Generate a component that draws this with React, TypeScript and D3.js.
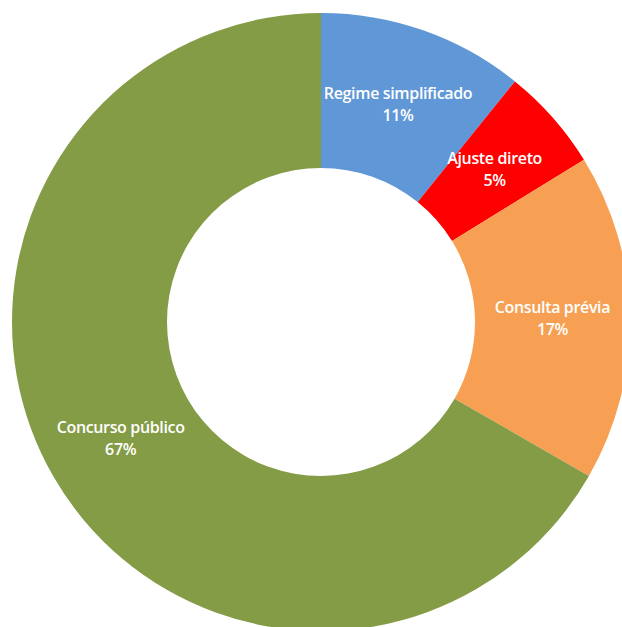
import React from "react";
import * as d3 from "d3";

const categories = ["Regime simplificado", "Ajuste direto", "Consulta prévia", "Concurso público"];
const values = [10.8, 5.4, 17.1, 66.7];
const percentLabels = ["11%", "5%", "17%", "67%"];
const colors = ["#6097D6", "#FF0000", "#F79F52", "#849C46"];

const W = 622;
const H = 627;
const cx = 321;
const cy = 322;
const outerR = 309;
const innerR = 154;

export default function App() {
  const data = categories.map((c, i) => ({ name: c, value: values[i], pct: percentLabels[i], color: colors[i] }));
  const pie = d3.pie<any>().value((d) => d.value).sort(null);
  const arcs = pie(data);
  const arc = d3.arc<any>().innerRadius(innerR).outerRadius(outerR);
  return (
    <svg width={W} height={H} style={{ position: "absolute", left: 0, top: 0, background: "#fff" }}>
      <g transform={`translate(${cx},${cy})`}>
        {arcs.map((a, i) => (
          <path key={i} d={arc(a) as string} fill={a.data.color} />
        ))}
        {arcs.map((a, i) => {
          const [x, y] = arc.centroid(a);
          return (
            <text
              key={"t" + i}
              x={x}
              y={y}
              textAnchor="middle"
              fill="#fff"
              fontFamily="'Open Sans', 'Liberation Sans', sans-serif"
              fontWeight={600}
              fontSize={16}
              letterSpacing={-0.35}
            >
              <tspan x={x} dy={-5}>{a.data.name}</tspan>
              <tspan x={x} dy={22}>{a.data.pct}</tspan>
            </text>
          );
        })}
      </g>
    </svg>
  );
}
